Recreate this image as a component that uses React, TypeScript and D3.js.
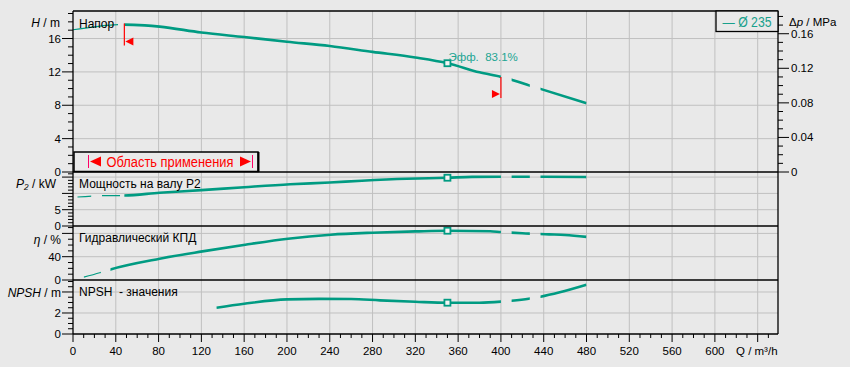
import React from "react";
import * as d3 from "d3";

// values (Q in m³/h)
const qHead = [0, 20, 42, 48, 67, 81, 120, 160, 200, 240, 280, 320, 350, 380, 400, 436, 480];
const headM = [17.05, 17.4, 17.67, 17.67, 17.58, 17.43, 16.72, 16.18, 15.62, 15.1, 14.4, 13.72, 13.04, 11.95, 11.4, 10.0, 8.25];

const qPower = [4, 27, 48, 81, 120, 160, 203, 240, 270, 312, 350, 373, 400, 440, 480];
const powerKw = [8.9, 9.3, 9.35, 10.2, 11.0, 11.9, 12.8, 13.35, 13.9, 14.5, 14.8, 15.05, 15.1, 15.1, 15.0];

const qEff = [10, 25, 35, 81, 121, 161, 201, 241, 280, 320, 350, 390, 400, 420, 445, 460, 480];
const effPct = [5.0, 12.5, 18.2, 36.6, 49.1, 60.6, 70.9, 77.8, 81.2, 83.4, 84.6, 83.6, 82.3, 80.2, 78.4, 77.3, 74.0];

const qNpsh = [134, 160, 200, 230, 260, 287, 320, 350, 380, 400, 410, 426, 437, 455, 480];
const npshM = [2.5, 2.88, 3.3, 3.34, 3.33, 3.2, 3.07, 2.98, 2.98, 3.08, 3.17, 3.36, 3.55, 3.97, 4.69];

const bepQ = 350;
const bepLabel = "Эфф.  83.1%";
const rangeMin = 48;
const rangeMax = 400;
const extensionRanges: [number, number][] = [[410, 427], [437, 480]];

const xLabels = [0, 40, 80, 120, 160, 200, 240, 280, 320, 360, 400, 440, 480, 520, 560, 600];
const headLabels = [0, 4, 8, 12, 16];
const dpLabels = [0, 0.04, 0.08, 0.12, 0.16];
const powerLabels = [0, 5];
const effLabels = [0, 40];
const npshLabels = [0, 2];

const W = 850;
const H = 367;
const BG = "#e9e9e9";
const TEAL = "#009b82";
const FONT = "'Liberation Sans', Arial, sans-serif";

const x = d3.scaleLinear().domain([0, 659]).range([73, 778]);
const yHead = d3.scaleLinear().domain([0, 19.3]).range([172, 11]);
const yDp = d3.scaleLinear().domain([0, 0.1863]).range([172, 11]);
const yPow = d3.scaleLinear().domain([0, 16.56]).range([226, 172]);
const yEff = d3.scaleLinear().domain([0, 92.7]).range([280, 226]);
const yNpsh = d3.scaleLinear().domain([0, 5.14]).range([334, 280]);

const panels = [
  { y: yHead, minor: 1, major: 4, max: 19, labels: headLabels },
  { y: yPow, minor: 1, major: 5, max: 16, labels: powerLabels },
  { y: yEff, minor: 10, major: 40, max: 90, labels: effLabels },
  { y: yNpsh, minor: 0.5, major: 2, max: 5, labels: npshLabels },
];

type Seg = [number, number];

function Curve({ id, qs, vs, y, ranges, width }: { id: string; qs: number[]; vs: number[]; y: d3.ScaleLinear<number, number>; ranges: Seg[]; width: number }) {
  const line = d3
    .line<number>()
    .x((_, i) => x(qs[i]))
    .y((d) => y(d))
    .curve(d3.curveMonotoneX);
  const d = line(vs) || "";
  return (
    <g>
      {ranges.map((r, i) => (
        <g key={i}>
          <clipPath id={`${id}-${i}`}>
            <rect x={x(r[0])} y={0} width={x(r[1]) - x(r[0])} height={H} />
          </clipPath>
          <path d={d} fill="none" stroke={TEAL} strokeWidth={width} clipPath={`url(#${id}-${i})`} />
        </g>
      ))}
    </g>
  );
}

function interp(qs: number[], vs: number[], q: number) {
  return d3.scaleLinear().domain(qs).range(vs)(q);
}

export default function App() {
  const fmt = (v: number) => (v === 0 ? "0" : String(v));
  const xMinor = d3.range(0, 651, 10);
  const xMajor = d3.range(0, 641, 40);
  const dpMinor = d3.range(0, 0.1805, 0.01);

  const bep = [
    { y: yHead(interp(qHead, headM, bepQ)) },
    { y: yPow(interp(qPower, powerKw, bepQ)) },
    { y: yEff(interp(qEff, effPct, bepQ)) },
    { y: yNpsh(interp(qNpsh, npshM, bepQ)) },
  ];

  const lx = x(rangeMin);
  const ly = yHead(interp(qHead, headM, rangeMin));
  const rx = x(rangeMax);
  const ry = yHead(interp(qHead, headM, rangeMax));

  return (
    <svg width={W} height={H} style={{ position: "absolute", left: 0, top: 0 }} fontFamily={FONT}>
      <rect width={W} height={H} fill={BG} />

      {/* vertical grid */}
      {xMajor.filter((q) => q > 0).map((q) => (
        <line key={q} x1={x(q)} x2={x(q)} y1={11} y2={334} stroke="#c0c0c0" />
      ))}
      {/* horizontal grid */}
      {panels.map((p, pi) =>
        d3.range(p.major, p.max + 0.001, p.major).map((v) => (
          <line key={`${pi}-${v}`} x1={73} x2={778} y1={p.y(v)} y2={p.y(v)} stroke="#c0c0c0" />
        ))
      )}

      {/* curves */}
      <Curve id="h-thin" qs={qHead} vs={headM} y={yHead} ranges={[[0, 42]]} width={1.2} />
      <Curve id="h" qs={qHead} vs={headM} y={yHead} ranges={[[rangeMin, rangeMax], ...extensionRanges]} width={2.6} />
      <Curve id="p-thin" qs={qPower} vs={powerKw} y={yPow} ranges={[[4, 17], [27, 44]]} width={1.2} />
      <Curve id="p" qs={qPower} vs={powerKw} y={yPow} ranges={[[rangeMin, rangeMax], ...extensionRanges]} width={2.6} />
      <Curve id="e-thin" qs={qEff} vs={effPct} y={yEff} ranges={[[10, 26]]} width={1.2} />
      <Curve id="e" qs={qEff} vs={effPct} y={yEff} ranges={[[35, rangeMax], ...extensionRanges]} width={2.6} />
      <Curve id="n" qs={qNpsh} vs={npshM} y={yNpsh} ranges={[[134, rangeMax], ...extensionRanges]} width={2.6} />

      {/* best efficiency point markers */}
      {bep.map((b, i) => (
        <rect key={i} x={x(bepQ) - 3} y={b.y - 3} width={6} height={6} fill="#f4f4f4" stroke={TEAL} strokeWidth={1.8} />
      ))}
      <text x={x(bepQ) + 1} y={61} fontSize={11.5} fill="#22a593" style={{ whiteSpace: "pre" }}>
        {bepLabel}
      </text>

      {/* application range markers */}
      <line x1={lx} x2={lx} y1={ly - 1} y2={ly + 21} stroke="red" strokeWidth={1.2} />
      <path d={`M${lx + 1},${ly + 17}L${lx + 9},${ly + 13}L${lx + 9},${ly + 21}Z`} fill="red" />
      <line x1={rx} x2={rx} y1={ry} y2={ry + 21} stroke="red" strokeWidth={1.2} />
      <path d={`M${rx - 1},${ry + 17}L${rx - 9},${ry + 13}L${rx - 9},${ry + 21}Z`} fill="red" />

      {/* panel frames */}
      {[11, 172, 226, 280, 334].map((yy) => (
        <line key={yy} x1={73} x2={778} y1={yy} y2={yy} stroke="#000" strokeWidth={1.3} />
      ))}
      <line x1={73} x2={73} y1={11} y2={334} stroke="#000" strokeWidth={1.3} />
      <line x1={778} x2={778} y1={11} y2={334} stroke="#000" strokeWidth={1.3} />

      {/* left axes */}
      {panels.map((p, pi) => (
        <g key={pi}>
          {d3.range(0, p.max + 0.001, p.minor).map((v) => {
            const major = Math.abs(v / p.major - Math.round(v / p.major)) < 1e-6;
            return <line key={v} x1={major ? 62 : 68} x2={73} y1={p.y(v)} y2={p.y(v)} stroke="#000" />;
          })}
          {p.labels.map((v) => (
            <text key={v} x={61} y={p.y(v) + 4} textAnchor="end" fontSize={11.5} fill="#000">
              {fmt(v)}
            </text>
          ))}
        </g>
      ))}

      {/* right axis Δp */}
      {dpMinor.map((v, i) => (
        <line key={i} x1={778} x2={i % 4 === 0 ? 789 : 783} y1={yDp(v)} y2={yDp(v)} stroke="#000" />
      ))}
      {dpLabels.map((v) => (
        <text key={v} x={791} y={yDp(v) + 4} fontSize={11.5} fill="#000">
          {v === 0 ? "0" : v.toFixed(2)}
        </text>
      ))}

      {/* x axis */}
      {xMinor.map((q) => (
        <line key={q} x1={x(q)} x2={x(q)} y1={334} y2={q % 40 === 0 ? 342 : 338} stroke="#000" />
      ))}
      {xLabels.map((q) => (
        <text key={q} x={x(q)} y={355} textAnchor="middle" fontSize={11.5} fill="#000">
          {q}
        </text>
      ))}
      <text x={736} y={355} fontSize={11.5} fill="#000">
        Q / m³/h
      </text>

      {/* axis titles */}
      <text x={60} y={27} textAnchor="end" fontSize={12} fill="#000">
        <tspan fontStyle="italic">H</tspan> / m
      </text>
      <text x={789} y={26} fontSize={11.5} fill="#000">
        Δ<tspan fontStyle="italic">p</tspan> / MPa
      </text>
      <text x={56} y={188} textAnchor="end" fontSize={12} fill="#000">
        <tspan fontStyle="italic">P₂</tspan> / kW
      </text>
      <text x={61} y={243.5} textAnchor="end" fontSize={12} fill="#000">
        <tspan fontStyle="italic">η</tspan> / %
      </text>
      <text x={61} y={297} textAnchor="end" fontSize={12} fill="#000">
        <tspan fontStyle="italic">NPSH</tspan> / m
      </text>

      {/* panel captions */}
      <text x={79} y={27.5} fontSize={12} fill="#000">Напор</text>
      <text x={79} y={188} fontSize={12} fill="#000">Мощность на валу P2</text>
      <text x={79} y={242} fontSize={12} fill="#000">Гидравлический КПД</text>
      <text x={79} y={296} fontSize={12} fill="#000" style={{ whiteSpace: "pre" }}>NPSH  - значения</text>

      {/* application range box */}
      <rect x={74} y={152} width={184} height={19.5} fill={BG} stroke="#000" strokeWidth={1.5} />
      <line x1={258.5} x2={258.5} y1={152} y2={172} stroke="#000" strokeWidth={2} />
      <line x1={88.5} x2={88.5} y1={155} y2={168} stroke="#f06" strokeWidth={1} />
      <path d="M90,161.5L101,156.5L101,166.5Z" fill="red" />
      <text x={106.5} y={166.5} fontSize={14} fill="red" textLength={127} lengthAdjust="spacingAndGlyphs">
        Область применения
      </text>
      <path d="M251,161.5L240,156.5L240,166.5Z" fill="red" />
      <line x1={252.5} x2={252.5} y1={155} y2={168} stroke="#f06" strokeWidth={1} />

      {/* legend */}
      <rect x={716} y={11} width={62} height={20.5} fill={BG} stroke="#000" strokeWidth={1.3} />
      <text x={722.5} y={27} fontSize={14} fill="#18a08c" textLength={49} lengthAdjust="spacingAndGlyphs">
        — Ø 235
      </text>
    </svg>
  );
}
